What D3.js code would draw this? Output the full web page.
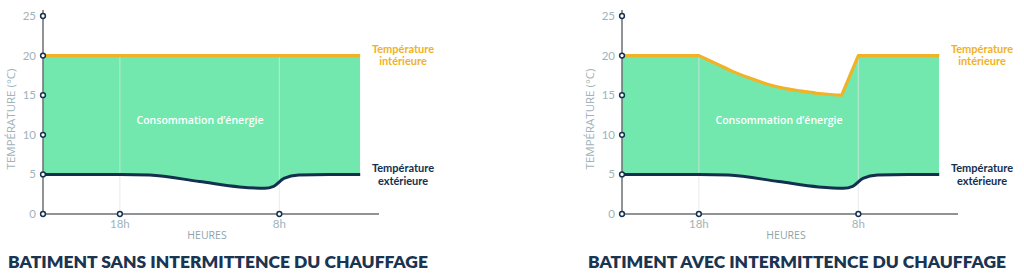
<!DOCTYPE html>
<html lang="fr">
<head>
<meta charset="utf-8">
<script src="https://cdn.jsdelivr.net/npm/d3@7"></script>
<style>
  html, body { margin: 0; padding: 0; background: #fff; }
  svg { display: block; font-family: Lato, "Open Sans", sans-serif; }
</style>
</head>
<body>
<svg id="chart" width="1024" height="280"></svg>
<script>
// Temperature axis ticks (°C)
const yTicks = [0, 5, 10, 15, 20, 25];
// Hour ticks (hours counted from midnight of the first day; 32 = 8h next morning)
const hourTicks = [18, 32];
const hourLabels = ["18h", "8h"];

// Outdoor temperature, shared by both buildings
const extHeures = [11.25, 18, 20.6, 25, 28.5, 30.7, 31.5, 32.4, 33.7, 36.4, 39.1];
const extTemp   = [5, 5, 4.92, 4.1, 3.42, 3.25, 3.5, 4.5, 4.92, 5, 5];

// Indoor temperature, continuous heating
const intHeuresSans = [11.25, 39.1];
const intTempSans   = [20, 20];
const breaksSans    = [];

// Indoor temperature, intermittent heating (night setback, then boost at 8h)
const intHeuresAvec = [11.25, 18, 19.56, 21.0, 22.49, 23.95, 25.39, 26.88, 28.34, 29.77, 30.54, 32, 39.1];
const intTempAvec   = [20, 20, 18.95, 17.98, 17.15, 16.42, 15.9, 15.54, 15.25, 15.06, 15.0, 20, 20];
// hours where the indoor curve has a corner (thermostat switching)
const breaksAvec    = [18, 30.54, 32];

const titles = ["BATIMENT SANS INTERMITTENCE DU CHAUFFAGE", "BATIMENT AVEC INTERMITTENCE DU CHAUFFAGE"];

const colors = {
  fill: "#73e8ae",
  indoor: "#f0b226",
  outdoor: "#14304f",
  axis: "#6b6f73",
  tickText: "#a0b3ba",
  axisTitle: "#8fa4ab",
  title: "#1a3452",
  grid: "#dfe6e8"
};

const svg = d3.select("#chart");

const x = d3.scaleLinear().domain([11.25, 40.75]).range([0, 336]);
const y = d3.scaleLinear().domain([0, 25]).range([214, 16]);

const zip = (xs, ys) => xs.map((h, i) => ({ h, t: ys[i] }));

// Indoor path: smooth (monotone) between corners, straight where only two points
function indoorPath(pts, breaks) {
  const segs = [];
  let cur = [pts[0]];
  for (let k = 1; k < pts.length; k++) {
    cur.push(pts[k]);
    if (breaks.includes(pts[k].h) && k < pts.length - 1) {
      segs.push(cur);
      cur = [pts[k]];
    }
  }
  segs.push(cur);
  const gen = d3.line().x(d => x(d.h)).y(d => y(d.t)).curve(d3.curveMonotoneX);
  return segs.map((s, j) => {
    const d = gen(s);
    return j === 0 ? d : "L" + d.slice(1);
  }).join("");
}

const panels = [
  { left: 43, indoor: zip(intHeuresSans, intTempSans), breaks: breaksSans, title: titles[0], titleX: -35, titleW: 420 },
  { left: 622, indoor: zip(intHeuresAvec, intTempAvec), breaks: breaksAvec, title: titles[1], titleX: -34, titleW: 418 }
];
const outdoor = zip(extHeures, extTemp);

panels.forEach((p, i) => {
  const g = svg.append("g").attr("transform", `translate(${p.left},0)`);
  const lineD = indoorPath(p.indoor, p.breaks);
  const first = p.indoor[0], last = p.indoor[p.indoor.length - 1];

  // clip: everything below the indoor curve
  const clipId = "clip-int-" + i;
  g.append("clipPath").attr("id", clipId)
    .append("path")
    .attr("d", lineD + `L${x(last.h)},${y(0)}L${x(first.h)},${y(0)}Z`);

  // energy consumption band: above outdoor curve, under indoor curve
  g.append("path")
    .attr("clip-path", `url(#${clipId})`)
    .attr("fill", colors.fill)
    .attr("d", d3.area().x(d => x(d.h)).y0(y(25)).y1(d => y(d.t)).curve(d3.curveMonotoneX)(outdoor));

  // vertical hour guides
  g.selectAll(".grid").data(hourTicks).join("line")
    .attr("x1", d => x(d)).attr("x2", d => x(d))
    .attr("y1", y(20)).attr("y2", y(0))
    .attr("stroke", colors.grid).attr("stroke-width", 1).attr("opacity", 0.7);

  // outdoor line
  g.append("path")
    .attr("fill", "none").attr("stroke", colors.outdoor).attr("stroke-width", 3)
    .attr("stroke-linejoin", "round")
    .attr("d", d3.line().x(d => x(d.h)).y(d => y(d.t)).curve(d3.curveMonotoneX)(outdoor));

  // indoor line
  g.append("path")
    .attr("fill", "none").attr("stroke", colors.indoor).attr("stroke-width", 3.2)
    .attr("stroke-linejoin", "round")
    .attr("d", lineD);

  // axes lines
  g.append("line").attr("x1", 0).attr("x2", 0).attr("y1", 10).attr("y2", y(0))
    .attr("stroke", colors.axis).attr("stroke-width", 1.5);
  g.append("line").attr("x1", 0).attr("x2", x(40.75)).attr("y1", y(0)).attr("y2", y(0))
    .attr("stroke", colors.axis).attr("stroke-width", 1.5);

  // y ticks: circles + labels
  g.selectAll(".ytick").data(yTicks).join("circle")
    .attr("cx", 0).attr("cy", d => y(d)).attr("r", 2.4)
    .attr("fill", "#fff").attr("stroke", colors.outdoor).attr("stroke-width", 1.5);
  g.selectAll(".ylab").data(yTicks).join("text")
    .attr("x", -7).attr("y", d => y(d)).attr("dy", "0.35em")
    .attr("text-anchor", "end").attr("font-size", 11.5).attr("fill", colors.tickText)
    .text(d => d);

  // x ticks
  g.selectAll(".xtick").data(hourTicks).join("circle")
    .attr("cx", d => x(d)).attr("cy", y(0)).attr("r", 2.4)
    .attr("fill", "#fff").attr("stroke", colors.outdoor).attr("stroke-width", 1.5);
  g.selectAll(".xlab").data(hourTicks).join("text")
    .attr("x", d => x(d)).attr("y", 228)
    .attr("text-anchor", "middle").attr("font-size", 11.5).attr("fill", colors.tickText)
    .text((d, j) => hourLabels[j]);

  // axis titles
  g.append("text").attr("x", 164).attr("y", 239)
    .attr("text-anchor", "middle").attr("font-size", 10.5).attr("fill", colors.axisTitle)
    .attr("font-family", "'Open Sans', sans-serif")
    .text("HEURES");
  g.append("text")
    .attr("transform", `translate(-32,119) rotate(-90)`)
    .attr("dy", "0.35em")
    .attr("text-anchor", "middle").attr("font-size", 11.5).attr("fill", colors.tickText)
    .attr("font-family", "'Open Sans', sans-serif")
    .text("TEMPÉRATURE (°C)");

  // band label
  g.append("text").attr("x", 157).attr("y", 124)
    .attr("text-anchor", "middle").attr("font-size", 10.5).attr("font-weight", 600)
    .attr("font-family", "'Open Sans', sans-serif")
    .attr("fill", "#fff").text("Consommation d’énergie");

  // series labels
  const labInt = g.append("text").attr("text-anchor", "middle")
    .attr("font-size", 11).attr("font-weight", 700).attr("fill", colors.indoor);
  labInt.append("tspan").attr("x", 360).attr("y", 53).text("Température");
  labInt.append("tspan").attr("x", 360).attr("y", 65).text("intérieure");

  const labExt = g.append("text").attr("text-anchor", "middle")
    .attr("font-size", 11).attr("font-weight", 700).attr("fill", colors.outdoor);
  labExt.append("tspan").attr("x", 360).attr("y", 172).text("Température");
  labExt.append("tspan").attr("x", 360).attr("y", 185).text("extérieure");

  // panel title
  g.append("text").attr("x", p.titleX).attr("y", 268)
    .attr("font-size", 16.5).attr("font-weight", 800).attr("fill", colors.title)
    .attr("textLength", p.titleW).attr("lengthAdjust", "spacingAndGlyphs")
    .text(p.title);
});
</script>
</body>
</html>
